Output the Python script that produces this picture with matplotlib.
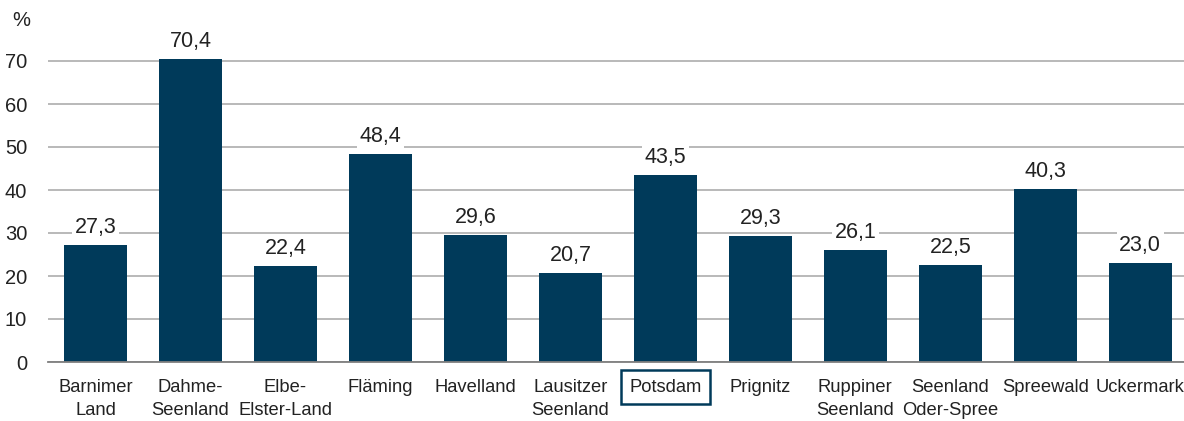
import matplotlib.pyplot as plt
import numpy as np

regions = ["Barnimer\nLand", "Dahme-\nSeenland", "Elbe-\nElster-Land", "Fläming",
           "Havelland", "Lausitzer\nSeenland", "Potsdam", "Prignitz",
           "Ruppiner\nSeenland", "Seenland\nOder-Spree", "Spreewald", "Uckermark"]
values = [27.3, 70.4, 22.4, 48.4, 29.6, 20.7, 43.5, 29.3, 26.1, 22.5, 40.3, 23.0]
yticks = [0, 10, 20, 30, 40, 50, 60, 70]
highlight = "Potsdam"

bar_color = "#003a5a"
text_color = "#222222"
plt.rcParams["font.family"] = ["Liberation Sans", "DejaVu Sans"]

fig = plt.figure(figsize=(11.84, 4.21), dpi=100)
# axes placed in pixel terms: left 48px, zero line at 362px from top
ax = fig.add_axes([48 / 1184, 59 / 421, 1.0 - 48 / 1184, 344 / 421])

x = np.arange(len(regions))
ax.bar(x, values, width=0.665, color=bar_color, zorder=2)

ax.set_xlim(-0.5, 11.46)
ax.set_ylim(0, 80)
ax.set_yticks(yticks)
ax.set_yticklabels([str(t) for t in yticks], fontsize=14.5, color=text_color)
ax.grid(axis="y", color="#a6a6a6", linewidth=1.1, zorder=0)
ax.set_axisbelow(True)
for s in ["top", "right", "left"]:
    ax.spines[s].set_visible(False)
ax.spines["bottom"].set_color("#7f7f7f")
ax.spines["bottom"].set_linewidth(1.3)
ax.spines["bottom"].set_zorder(3)
ax.tick_params(axis="y", length=0, pad=15)
ax.tick_params(axis="x", length=0, pad=12)

ax.set_xticks(x)
ax.set_xticklabels(regions, fontsize=13.2, color=text_color, linespacing=1.5)
for lbl in ax.get_xticklabels():
    lbl.set_verticalalignment("top")
    if lbl.get_text() == highlight:
        lbl.set_bbox(dict(facecolor="white", edgecolor=bar_color, linewidth=1.8,
                          boxstyle="square,pad=0.45"))

for xi, v in zip(x, values):
    ax.annotate(f"{v:.1f}".replace(".", ","), (xi, v), xytext=(0, 12.5),
                textcoords="offset points", ha="center", va="center",
                fontsize=15.5, color=text_color, zorder=4,
                bbox=dict(facecolor="white", edgecolor="none", pad=2))

fig.text(12 / 1184, 1 - 20 / 421, "%", fontsize=14.5, color=text_color,
         ha="left", va="center")

fig.savefig("out.png", dpi=100)
